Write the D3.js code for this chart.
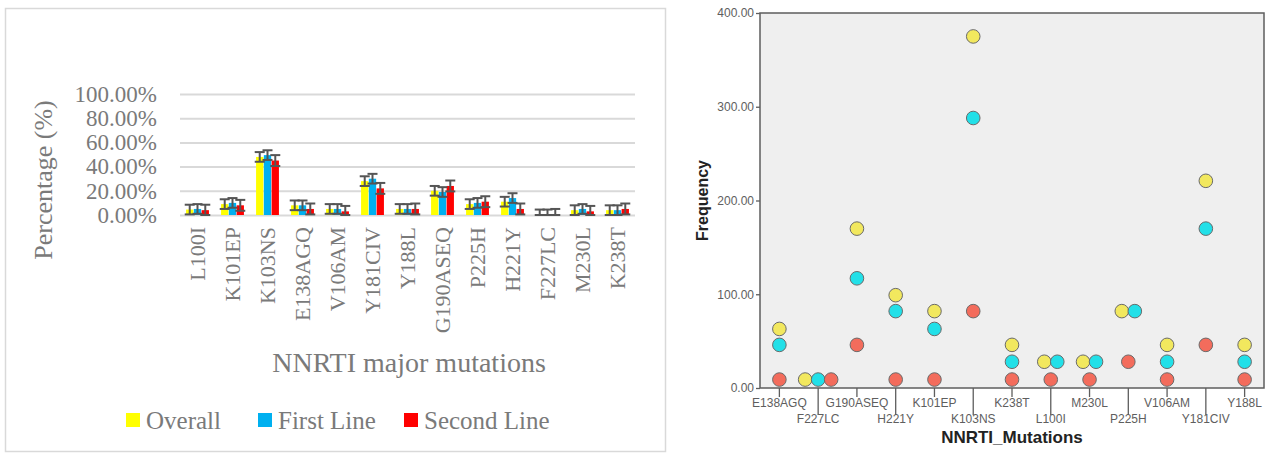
<!DOCTYPE html>
<html>
<head>
<meta charset="utf-8">
<script src="https://cdn.jsdelivr.net/npm/d3@7"></script>
<style>
  body { margin: 0; background: #fff; }
  svg { display: block; }
</style>
</head>
<body>
<svg id="chart" width="1269" height="456"></svg>
<script>
// ---- left panel: percentages by mutation
const barCategories = ["L100I", "K101EP", "K103NS", "E138AGQ", "V106AM", "Y181CIV", "Y188L",
    "G190ASEQ", "P225H", "H221Y", "F227LC", "M230L", "K238T"];
const overallPct = [4.5, 9, 48, 8, 5, 28, 5, 20, 9, 11, 0.5, 4, 4];
const firstLinePct = [5, 10, 49.5, 8, 5, 30, 5, 19, 10, 14, 0.5, 5, 4];
const secondLinePct = [4, 8, 45, 5, 3, 22, 5, 24, 11, 5, 0.5, 3, 5];
const errorPct = [4, 4, 4.5];
const pctTicks = [0, 20, 40, 60, 80, 100];
const seriesNames = ["Overall", "First Line", "Second Line"];

// ---- right panel: frequencies by mutation
const dotCategories = ["E138AGQ", "F227LC", "G190ASEQ", "H221Y", "K101EP", "K103NS", "K238T",
    "L100I", "M230L", "P225H", "V106AM", "Y181CIV", "Y188L"];
const overallFreq = [63, 9, 170, 99, 82, 375, 46, 28, 28, 82, 46, 221, 46];
const firstLineFreq = [46, 9, 117, 82, 63, 288, 28, 28, 28, 82, 28, 170, 28];
const secondLineFreq = [9, 9, 46, 9, 9, 82, 9, 9, 9, 28, 9, 46, 9];
const freqTicks = [0, 100, 200, 300, 400];

const barColors = ["#ffff00", "#00b0f0", "#ff0000"];
const dotColors = ["#f2e85e", "#22e0e8", "#f36c5c"];

const svg = d3.select("#chart");
const serif = "'Palatino Linotype', 'Book Antiqua', 'Liberation Serif', serif";
const sans = "'Liberation Sans', Arial, sans-serif";

// ================= left chart =================
svg.append("rect")
    .attr("x", 5.5).attr("y", 8.5)
    .attr("width", 660).attr("height", 443)
    .attr("fill", "none")
    .attr("stroke", "#d9d9d9")
    .attr("stroke-width", 1.5);

const yL = d3.scaleLinear().domain([0, 100]).range([215, 94]);
const xL = d3.scaleBand().domain(barCategories).range([180, 635])
    .paddingInner(0.32).paddingOuter(0.16);
const xL1 = d3.scaleBand().domain(d3.range(3)).range([0, xL.bandwidth()]).padding(0.06);

const gridAxis = svg.append("g")
    .attr("transform", "translate(180,0)")
    .call(d3.axisLeft(yL).tickValues(pctTicks).tickSize(-455).tickPadding(23)
        .tickFormat(d => d.toFixed(2) + "%"));
gridAxis.select(".domain").remove();
gridAxis.selectAll(".tick line").attr("stroke", "#d9d9d9").attr("stroke-width", 2);
gridAxis.selectAll(".tick text")
    .attr("fill", "#7a7a7a")
    .style("font-family", serif)
    .style("font-size", "23px");

const barRows = barCategories.map((c, i) => ({
    cat: c,
    vals: [overallPct[i], firstLinePct[i], secondLinePct[i]]
}));

const groups = svg.append("g").selectAll("g")
    .data(barRows)
    .join("g")
    .attr("transform", d => `translate(${xL(d.cat)},0)`);

groups.selectAll("rect")
    .data(d => d.vals.map((v, s) => ({ v, s })))
    .join("rect")
    .attr("x", d => xL1(d.s))
    .attr("y", d => yL(d.v))
    .attr("width", xL1.bandwidth())
    .attr("height", d => yL(0) - yL(d.v))
    .attr("fill", d => barColors[d.s]);

const errG = groups.selectAll("g.err")
    .data(d => d.vals.map((v, s) => ({ v, s })))
    .join("g")
    .attr("class", "err")
    .attr("stroke", "#555")
    .attr("stroke-width", 2);
errG.append("line")
    .attr("x1", d => xL1(d.s) + xL1.bandwidth() / 2)
    .attr("x2", d => xL1(d.s) + xL1.bandwidth() / 2)
    .attr("y1", d => yL(Math.max(0, d.v - errorPct[d.s])))
    .attr("y2", d => yL(d.v + errorPct[d.s]));
[-1, 1].forEach(sign => {
    errG.append("line")
        .attr("x1", d => xL1(d.s) + xL1.bandwidth() / 2 - 5)
        .attr("x2", d => xL1(d.s) + xL1.bandwidth() / 2 + 5)
        .attr("y1", d => yL(Math.max(0, d.v + sign * errorPct[d.s])))
        .attr("y2", d => yL(Math.max(0, d.v + sign * errorPct[d.s])));
});

const xAxisL = svg.append("g")
    .attr("transform", "translate(0,215)")
    .call(d3.axisBottom(xL).tickSize(0).tickPadding(0));
xAxisL.select(".domain").remove();
xAxisL.selectAll(".tick text")
    .attr("transform", "rotate(-90)")
    .attr("text-anchor", "end")
    .attr("x", -12)
    .attr("y", 0)
    .attr("dy", "0.35em")
    .attr("fill", "#7a7a7a")
    .style("font-family", serif)
    .style("font-size", "22px");

svg.append("text")
    .attr("transform", "translate(52,180) rotate(-90)")
    .attr("text-anchor", "middle")
    .attr("fill", "#7a7a7a")
    .style("font-family", serif)
    .style("font-size", "26px")
    .text("Percentage (%)");

svg.append("text")
    .attr("x", 409).attr("y", 372)
    .attr("text-anchor", "middle")
    .attr("fill", "#7a7a7a")
    .style("font-family", serif)
    .style("font-size", "28px")
    .text("NNRTI major mutations");

const legendX = [126, 258, 404];
const legend = svg.append("g").selectAll("g")
    .data(seriesNames)
    .join("g")
    .attr("transform", (d, i) => `translate(${legendX[i]},413)`);
legend.append("rect")
    .attr("width", 14).attr("height", 14)
    .attr("fill", (d, i) => barColors[i]);
legend.append("text")
    .attr("x", 20).attr("y", 7)
    .attr("dy", "0.35em")
    .attr("fill", "#7a7a7a")
    .style("font-family", serif)
    .style("font-size", "25px")
    .text(d => d);

// ================= right chart =================
const plot = { left: 760, right: 1264, top: 13, bottom: 388 };
const yR = d3.scaleLinear().domain([0, 400]).range([plot.bottom, plot.top]);
const xR = d3.scaleBand().domain(dotCategories).range([plot.left, plot.right]);

svg.append("rect")
    .attr("x", plot.left).attr("y", plot.top)
    .attr("width", plot.right - plot.left)
    .attr("height", plot.bottom - plot.top)
    .attr("fill", "#efefef")
    .attr("stroke", "#5e5e5e")
    .attr("stroke-width", 1.5);

const yAxisR = svg.append("g")
    .attr("transform", `translate(${plot.left},0)`)
    .call(d3.axisLeft(yR).tickValues(freqTicks).tickSize(4).tickPadding(2)
        .tickFormat(d3.format(".2f")));
yAxisR.select(".domain").remove();
yAxisR.selectAll(".tick line").attr("stroke", "#5e5e5e").attr("stroke-width", 1.3);
yAxisR.selectAll(".tick text")
    .attr("fill", "#5e5e5e")
    .style("font-family", sans)
    .style("font-size", "12px");

const xAxisR = svg.append("g")
    .attr("transform", `translate(0,${plot.bottom})`)
    .call(d3.axisBottom(xR).tickSize(0));
xAxisR.select(".domain").remove();
xAxisR.selectAll(".tick line")
    .attr("stroke", "#5e5e5e").attr("stroke-width", 1.3)
    .attr("y2", (d, i) => i % 2 ? 27 : 9);
xAxisR.selectAll(".tick text")
    .attr("y", (d, i) => i % 2 ? 31 : 15)
    .attr("dy", "0.35em")
    .attr("fill", "#5e5e5e")
    .style("font-family", sans)
    .style("font-size", "12px");

// points; equal values inside a category are spread side by side
const dotSeries = [overallFreq, firstLineFreq, secondLineFreq];
const points = [];
dotCategories.forEach((c, i) => {
    const vals = dotSeries.map(s => s[i]);
    vals.forEach((v, s) => {
        const same = vals.map((w, k) => k).filter(k => vals[k] === v);
        const pos = same.indexOf(s);
        points.push({ cat: c, v, s, off: (pos - (same.length - 1) / 2) * 13 });
    });
});

svg.append("g").selectAll("circle")
    .data(points)
    .join("circle")
    .attr("cx", d => xR(d.cat) + xR.bandwidth() / 2 + d.off)
    .attr("cy", d => yR(d.v))
    .attr("r", 6.8)
    .attr("fill", d => dotColors[d.s])
    .attr("stroke", "#6a6a6a")
    .attr("stroke-width", 1);

svg.append("text")
    .attr("transform", `translate(708,${(plot.top + plot.bottom) / 2}) rotate(-90)`)
    .attr("text-anchor", "middle")
    .attr("fill", "#222")
    .style("font-family", sans)
    .style("font-weight", "bold")
    .style("font-size", "16px")
    .text("Frequency");

svg.append("text")
    .attr("x", (plot.left + plot.right) / 2).attr("y", 443)
    .attr("text-anchor", "middle")
    .attr("fill", "#222")
    .style("font-family", sans)
    .style("font-weight", "bold")
    .style("font-size", "17px")
    .text("NNRTI_Mutations");
</script>
</body>
</html>
